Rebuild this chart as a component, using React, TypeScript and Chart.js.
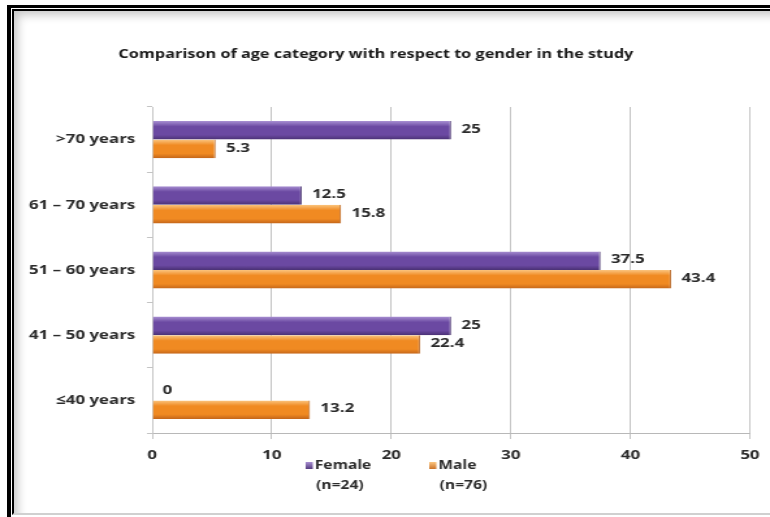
import React, { useEffect, useRef } from "react";
import { Chart, registerables } from "chart.js";

Chart.register(...registerables);

const TITLE = "Comparison of age category with respect to gender in the study";
const AGE_GROUPS = [">70 years", "61 – 70 years", "51 – 60 years", "41 – 50 years", "≤40 years"];
const FEMALE = [25, 12.5, 37.5, 25, 0];
const MALE = [5.3, 15.8, 43.4, 22.4, 13.2];
const SERIES_NAMES = ["Female", "Male"];
const SERIES_COUNTS = ["(n=24)", "(n=76)"];
const X_MIN = 0;
const X_MAX = 50;
const X_STEP = 10;

const FONT = "'Open Sans', Lato, sans-serif";
const TEXT_COLOR = "#2b2b2b";
const CATEGORY_PCT = 0.57;

// The chart is rendered into a narrower buffer and widened by CSS,
// which gives the broad, soft lettering of the original slide.
const VIEW_W = 770;
const VIEW_H = 517;
const WIDEN = 1.3;
const BUF_W = Math.round(VIEW_W / WIDEN);

// top highlight, body, bottom shade
const PALETTES = [
  ["#a88fd2", "#6b49a2", "#4a3174"],
  ["#fbc57f", "#f08a22", "#c4661a"],
];

function barGradient(chart: Chart, datasetIndex: number, dataIndex: number) {
  const y: any = chart.scales && chart.scales.y;
  const pal = PALETTES[datasetIndex];
  if (!y || !chart.ctx) return pal[1];
  const catW = (y.bottom - y.top) / AGE_GROUPS.length;
  const thick = (catW * CATEGORY_PCT) / 2;
  const center = y.getPixelForValue(dataIndex) + (datasetIndex - 0.5) * thick;
  const y0 = center - thick / 2;
  const y1 = center + thick / 2;
  if (!Number.isFinite(y0) || !Number.isFinite(y1) || thick <= 0) return pal[1];
  const g = chart.ctx.createLinearGradient(0, y0, 0, y1);
  g.addColorStop(0, pal[0]);
  g.addColorStop(0.3, pal[1]);
  g.addColorStop(0.75, pal[1]);
  g.addColorStop(1, pal[2]);
  return g;
}

const valueLabels = {
  id: "valueLabels",
  afterDatasetsDraw(chart: Chart) {
    const { ctx } = chart;
    ctx.save();
    ctx.font = `bold 13px ${FONT}`;
    ctx.fillStyle = TEXT_COLOR;
    ctx.textAlign = "left";
    ctx.textBaseline = "middle";
    chart.data.datasets.forEach((ds, di) => {
      const meta = chart.getDatasetMeta(di);
      meta.data.forEach((el: any, i) => {
        const v = ds.data[i] as number;
        ctx.fillText(String(v), el.x + 8, el.y - 1);
      });
    });
    ctx.restore();
  },
};

const twoLineLegend = {
  id: "twoLineLegend",
  afterDraw(chart: Chart) {
    const { ctx, chartArea } = chart;
    ctx.save();
    ctx.font = `bold 12px ${FONT}`;
    ctx.textBaseline = "middle";
    ctx.textAlign = "left";
    const baseX = chartArea.left + 118;
    const y1 = chartArea.bottom + 33;
    const y2 = chartArea.bottom + 53;
    SERIES_NAMES.forEach((name, i) => {
      const x = baseX + i * 95;
      const pal = PALETTES[i];
      const g = ctx.createLinearGradient(0, y1 - 4, 0, y1 + 4);
      g.addColorStop(0, pal[0]);
      g.addColorStop(1, pal[2]);
      ctx.fillStyle = g;
      ctx.fillRect(x, y1 - 4, 5.5, 7);
      ctx.fillStyle = TEXT_COLOR;
      ctx.fillText(name, x + 7, y1);
      ctx.fillText(SERIES_COUNTS[i], x + 8, y2);
    });
    ctx.restore();
  },
};

export default function App() {
  const canvasRef = useRef<HTMLCanvasElement | null>(null);

  useEffect(() => {
    if (!canvasRef.current) return;
    const chart = new Chart(canvasRef.current, {
      type: "bar",
      data: {
        labels: AGE_GROUPS,
        datasets: [
          {
            label: SERIES_NAMES[0],
            data: FEMALE,
            backgroundColor: (c: any) => barGradient(c.chart, 0, c.dataIndex),
            borderColor: "#3f2a66",
            borderWidth: { top: 0, bottom: 0, left: 0, right: 1 },
            borderSkipped: false,
          },
          {
            label: SERIES_NAMES[1],
            data: MALE,
            backgroundColor: (c: any) => barGradient(c.chart, 1, c.dataIndex),
            borderColor: "#b35a12",
            borderWidth: { top: 0, bottom: 0, left: 0, right: 1 },
            borderSkipped: false,
          },
        ],
      },
      options: {
        indexAxis: "y",
        responsive: false,
        animation: false,
        devicePixelRatio: 1,
        datasets: {
          bar: { categoryPercentage: CATEGORY_PCT, barPercentage: 1 },
        },
        layout: { padding: { left: 0, right: 14, top: 0, bottom: 0 } },
        plugins: {
          legend: { display: false },
          tooltip: { enabled: false },
          title: {
            display: true,
            text: TITLE,
            color: "#1a1a1a",
            font: { family: FONT, size: 12.5, weight: "bold" },
            padding: { top: 47, bottom: 45 },
          },
        },
        scales: {
          x: {
            min: X_MIN,
            max: X_MAX,
            ticks: {
              stepSize: X_STEP,
              color: TEXT_COLOR,
              font: { family: FONT, size: 13, weight: "bold" },
              padding: 8,
            },
            grid: { color: "#c4c4c4", tickLength: 6, lineWidth: 1 },
            border: { color: "#b8b8b8" },
            afterFit: (s: any) => {
              s.height = 84;
            },
          },
          y: {
            ticks: {
              color: TEXT_COLOR,
              font: { family: FONT, size: 13, weight: "bold" },
              padding: 9,
            },
            grid: { drawOnChartArea: false, tickLength: 4, color: "#c4c4c4", offset: true },
            border: { color: "#c4c4c4" },
            afterFit: (s: any) => {
              s.width = 117;
            },
          },
        },
      },
      plugins: [valueLabels, twoLineLegend],
    });
    return () => chart.destroy();
  }, []);

  return (
    <div
      style={{
        position: "fixed",
        left: 0,
        top: 0,
        width: VIEW_W,
        height: VIEW_H,
        overflow: "hidden",
        background: "#ffffff",
      }}
    >
      <div
        style={{
          position: "absolute",
          left: 7,
          top: 5,
          width: 775,
          height: 525,
          borderLeft: "4px solid #000",
          borderTop: "3px solid #000",
          boxSizing: "border-box",
        }}
      >
        <div
          style={{
            position: "absolute",
            left: 1,
            top: 1,
            width: 760,
            height: 506,
            borderLeft: "2px solid #000",
            borderTop: "2px solid #000",
            borderRight: "1px solid #d6d6d6",
            borderBottom: "2px solid #d0d0d0",
            boxSizing: "border-box",
            boxShadow: "inset 7px 7px 10px -3px rgba(0,0,0,0.22)",
          }}
        />
      </div>
      <canvas
        ref={canvasRef}
        width={BUF_W}
        height={VIEW_H}
        style={{ position: "absolute", left: 0, top: 0, width: VIEW_W, height: VIEW_H }}
      />
    </div>
  );
}
